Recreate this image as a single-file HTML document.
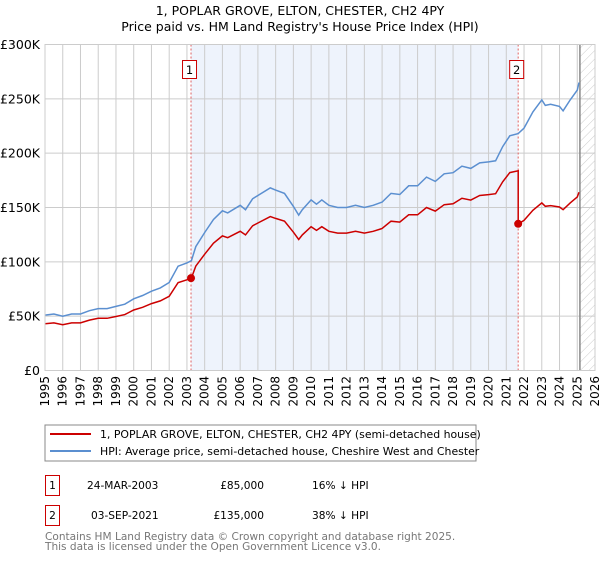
<!DOCTYPE html>
<html><head><meta charset="utf-8"><style>
body{margin:0;background:#fff;font-family:"Liberation Sans","DejaVu Sans",sans-serif}
svg text{font-family:"DejaVu Sans","Liberation Sans",sans-serif}
</style></head><body>
<svg id="c" width="600" height="560" viewBox="0 0 600 560" xmlns="http://www.w3.org/2000/svg">
<defs><pattern id="hatch" width="6" height="6" patternUnits="userSpaceOnUse" patternTransform="rotate(45)"><line x1="0" y1="0" x2="0" y2="6" stroke="#ccc" stroke-width="1"/></pattern></defs>
<text x="300" y="15" text-anchor="middle" font-size="12.5">1, POPLAR GROVE, ELTON, CHESTER, CH2 4PY</text>
<text x="300" y="31" text-anchor="middle" font-size="12.5">Price paid vs. HM Land Registry's House Price Index (HPI)</text>
<g id="plot"></g>
<rect x="45" y="425" width="431" height="36" fill="#fff" stroke="#888"/>
<line x1="50" y1="434" x2="91" y2="434" stroke="#cc0000" stroke-width="2"/>
<text x="100" y="438" font-size="10.9">1, POPLAR GROVE, ELTON, CHESTER, CH2 4PY (semi-detached house)</text>
<line x1="50" y1="451" x2="91" y2="451" stroke="#5b8fd0" stroke-width="2"/>
<text x="100" y="455" font-size="10.9">HPI: Average price, semi-detached house, Cheshire West and Chester</text>
<g font-size="10.6">
<rect x="45.5" y="475.5" width="14" height="20" fill="none" stroke="#cc0000"/>
<text x="52.5" y="489" text-anchor="middle">1</text>
<text x="87" y="489">24-MAR-2003</text>
<text x="264" y="489" text-anchor="end">£85,000</text>
<text x="312" y="489">16% ↓ HPI</text>
<rect x="45.5" y="505.5" width="14" height="20" fill="none" stroke="#cc0000"/>
<text x="52.5" y="519" text-anchor="middle">2</text>
<text x="91" y="519">03-SEP-2021</text>
<text x="264" y="519" text-anchor="end">£135,000</text>
<text x="312" y="519">38% ↓ HPI</text>
</g>
<text x="45" y="540" font-size="10.55" fill="#777">Contains HM Land Registry data © Crown copyright and database right 2025.</text>
<text x="45" y="550" font-size="10.55" fill="#777">This data is licensed under the Open Government Licence v3.0.</text>
</svg>
<script>
const hpiYears=[1995,1995.5,1996,1996.5,1997,1997.5,1998,1998.5,1999,1999.5,2000,2000.5,2001,2001.5,2002,2002.5,2003,2003.25,2003.5,2004,2004.5,2005,2005.3,2006,2006.3,2006.7,2007,2007.7,2008,2008.5,2009,2009.3,2009.5,2010,2010.3,2010.6,2011,2011.5,2012,2012.5,2013,2013.5,2014,2014.5,2015,2015.5,2016,2016.5,2017,2017.5,2018,2018.5,2019,2019.5,2020,2020.4,2020.8,2021.2,2021.67,2022,2022.5,2023,2023.2,2023.5,2024,2024.2,2024.6,2025,2025.1];
const hpiValues=[51,52,50,52,52,55,57,57,59,61,66,69,73,76,81,96,99,101,114,127,139,147,145,152,148,158,161,168,166,163,151,143,148,157,153,157,152,150,150,152,150,152,155,163,162,170,170,178,174,181,182,188,186,191,192,193,206,216,218,223,238,249,244,245,243,239,249,258,265];
const saleYears=[2003.23,2021.67];
const salePrices=[85,135];
const saleLabels=["1","2"];
const yTicks=[0,50,100,150,200,250,300];
const yTickLabels=["£0","£50K","£100K","£150K","£200K","£250K","£300K"];
const xTicks=[1995,1996,1997,1998,1999,2000,2001,2002,2003,2004,2005,2006,2007,2008,2009,2010,2011,2012,2013,2014,2015,2016,2017,2018,2019,2020,2021,2022,2023,2024,2025,2026];
const dataEnd=2025.15;

const L=45,R=595,T=44.5,B=370.5,X0=1995,X1=2026;
const sx=v=>L+(v-X0)/(X1-X0)*(R-L);
const sy=v=>B-v/300*(B-T);
const NS="http://www.w3.org/2000/svg";
const g=document.getElementById('plot');
function mk(t,a,p){const e=document.createElementNS(NS,t);for(const k in a)e.setAttribute(k,a[k]);(p||g).appendChild(e);return e;}
function hpiAt(t){for(let i=0;i<hpiYears.length-1;i++){if(t>=hpiYears[i]&&t<=hpiYears[i+1]){const f=(t-hpiYears[i])/(hpiYears[i+1]-hpiYears[i]);return hpiValues[i]+f*(hpiValues[i+1]-hpiValues[i]);}}return hpiValues[hpiValues.length-1];}

let e=mk('rect',{x:sx(saleYears[0]),y:T,width:sx(saleYears[1])-sx(saleYears[0]),height:B-T,fill:'#eef3fc'});


e=mk('rect',{x:sx(dataEnd),y:T,width:R-sx(dataEnd),height:B-T,fill:'url(#hatch)'});


xTicks.forEach(t=>{
  const l=mk('line',{x1:sx(t),x2:sx(t),y1:T,y2:B,stroke:'#ccc'});
  
  
  const x=sx(t)+4;
  const tx=mk('text',{x:x,y:376,transform:`rotate(-90 ${x} 376)`,'text-anchor':'end','font-size':'12'});
  tx.textContent=t;
  
  
});
yTicks.forEach((t,i)=>{
  const l=mk('line',{x1:L,x2:R,y1:sy(t),y2:sy(t),stroke:'#ccc'});
  
  
  const tx=mk('text',{x:40,y:sy(t)+4.5,'text-anchor':'end','font-size':'12.5'});
  tx.textContent=yTickLabels[i];
  
  
});
e=mk('line',{x1:sx(dataEnd),x2:sx(dataEnd),y1:T,y2:B,stroke:'#888','stroke-width':1.5});


saleYears.forEach((s,i)=>{
  const l=mk('line',{x1:sx(s),x2:sx(s),y1:T,y2:B,stroke:'#e06060','stroke-dasharray':'2,2'});
  
  
});
let d=hpiYears.map((t,i)=>(i?'L':'M')+sx(t).toFixed(1)+','+sy(hpiValues[i]).toFixed(1)).join('');
e=mk('path',{d:d,fill:'none',stroke:'#5b8fd0','stroke-width':1.5});


const f1=salePrices[0]/hpiAt(saleYears[0]), f2=salePrices[1]/hpiAt(saleYears[1]);
let pts=[];
hpiYears.forEach((t,i)=>{ if(t<saleYears[1]) pts.push([t,hpiValues[i]*f1]); });
pts.push([saleYears[1],hpiAt(saleYears[1])*f1]);
pts.push([saleYears[1],salePrices[1]]);
hpiYears.forEach((t,i)=>{ if(t>saleYears[1]) pts.push([t,hpiValues[i]*f2]); });
d=pts.map((p,i)=>(i?'L':'M')+sx(p[0]).toFixed(1)+','+sy(p[1]).toFixed(1)).join('');
e=mk('path',{d:d,fill:'none',stroke:'#cc0000','stroke-width':1.5});


saleYears.forEach((s,i)=>{
  const c=mk('circle',{cx:sx(s),cy:sy(salePrices[i]),r:4,fill:'#cc0000'});
  
  
  const bx=sx(s)-8;
  const r=mk('rect',{x:bx-0.5,y:60.5,width:14,height:18,fill:'#fff',stroke:'#cc0000'});
  
  
  const tx=mk('text',{x:bx+6.5,y:74,'text-anchor':'middle','font-size':'11.5'});
  tx.textContent=saleLabels[i];
  
  
});
e=mk('rect',{x:L,y:T,width:R-L,height:B-T,fill:'none',stroke:'#ccc'});


</script>
</body></html>
